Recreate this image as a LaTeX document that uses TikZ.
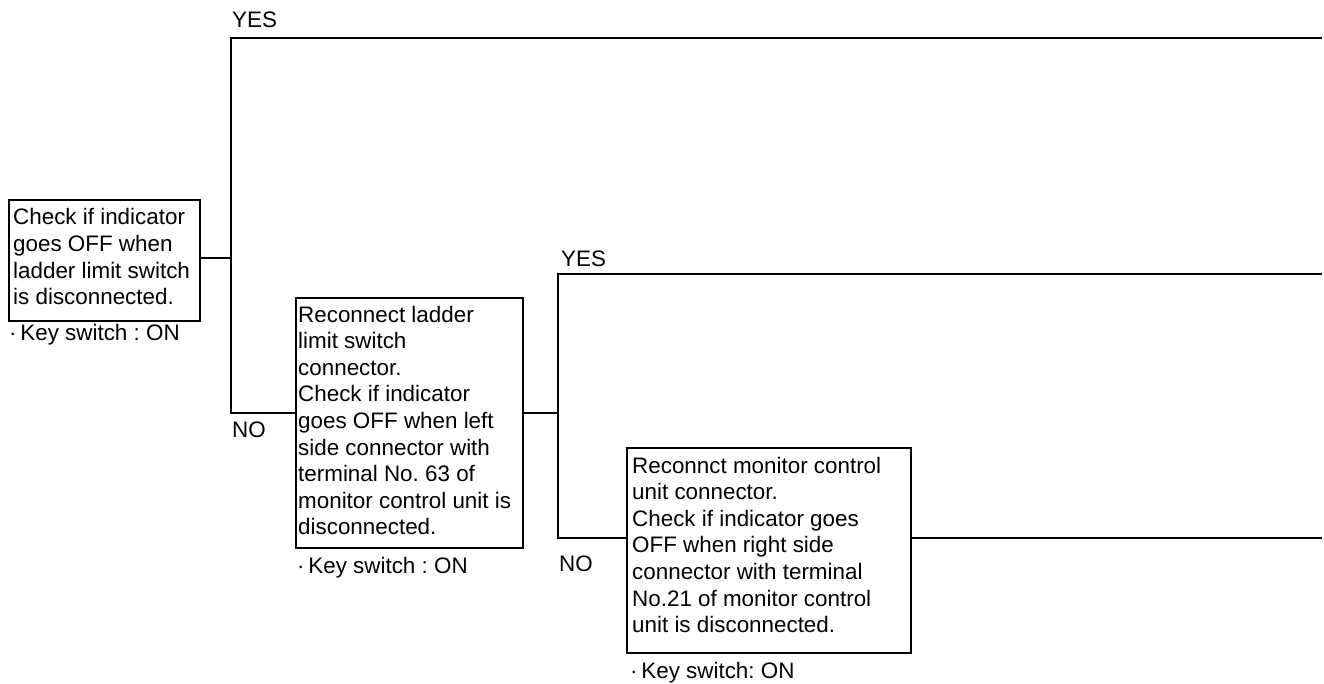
\documentclass[tikz,border=0pt]{standalone}
\usepackage{fontspec}
\setmainfont{Liberation Sans}
\frenchspacing
\begin{document}
\begin{tikzpicture}[x=1pt,y=-1pt,
  every node/.style={font=\fontsize{22.4}{26.6}\selectfont},
  stepbox/.style={draw,line width=2pt,inner sep=0pt,anchor=north west},
  boxtext/.style={inner sep=0pt,anchor=base west,align=left},
  lbl/.style={inner sep=0pt,anchor=base west},
  wire/.style={line width=1.6pt}]
\useasboundingbox (0,0) rectangle (1324,684);

% decision boxes (frames)
\node[stepbox,minimum width=191pt,minimum height=121pt] (b1) at (8,199) {};
\node[stepbox,minimum width=227pt,minimum height=250pt] (b2) at (295,297) {};
\node[stepbox,minimum width=284pt,minimum height=205pt] (b3) at (626,447) {};

% box contents (anchored on the baseline of the last line)
\node[boxtext] (t1) at (13,304.8) {Check if indicator\\goes OFF when\\ladder limit switch\\is disconnected.};
\node[boxtext] (t2) at (298,534.8) {Reconnect ladder\\limit switch\\connector.\\Check if indicator\\goes OFF when left\\side connector with\\terminal No. 63 of\\monitor control unit is\\disconnected.};
\node[boxtext] (t3) at (632,632.6) {Reconnct monitor control\\unit connector.\\Check if indicator goes\\OFF when right side\\connector with terminal\\No.21 of monitor control\\unit is disconnected.};

% conditions under the boxes
\node[lbl] (k1) at (9,341) {·\,Key switch : ON};
\node[lbl] (k2) at (297,573) {·\,Key switch : ON};
\node[lbl] (k3) at (630,678) {·\,Key switch: ON};

% branch junctions
\coordinate (j1) at (231,258);
\coordinate (y1s) at (231,38);
\coordinate (y1e) at (1322,38);
\coordinate (n1) at (231,413);
\coordinate (j2) at (558,413);
\coordinate (y2s) at (558,274);
\coordinate (y2e) at (1322,274);
\coordinate (n2) at (558,538);
\coordinate (o3) at (1322,538);

\draw[wire] (b1.east |- j1) -- (j1);
\draw[wire] (y1e) -- (y1s) -- (n1) -- (n1 -| b2.west);
\draw[wire] (b2.east |- j2) -- (j2);
\draw[wire] (y2e) -- (y2s) -- (n2) -- (n2 -| b3.west);
\draw[wire] (b3.east |- o3) -- (o3);

% branch labels
\node[lbl] (yes1) at (232,28) {YES};
\node[lbl] (no1) at (232,437) {NO};
\node[lbl] (yes2) at (561,267) {YES};
\node[lbl] (no2) at (559,571) {NO};
\end{tikzpicture}
\end{document}
